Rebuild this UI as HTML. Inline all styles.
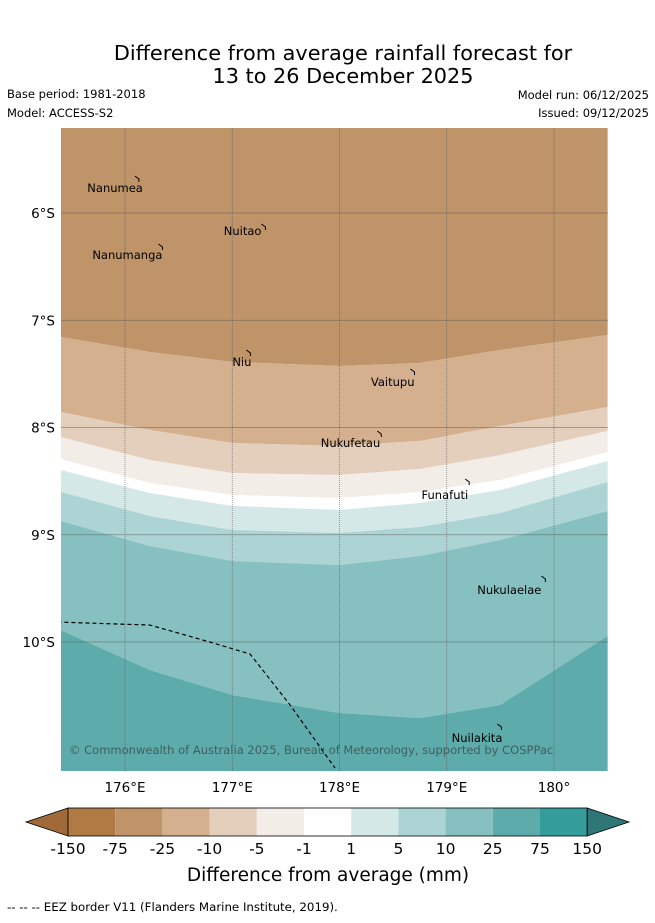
<!DOCTYPE html>
<html><head><meta charset="utf-8">
<style>
body{margin:0;background:#fff;font-family:"DejaVu Sans","Liberation Sans",sans-serif;}
svg text{font-family:"DejaVu Sans","Liberation Sans",sans-serif;}
</style></head>
<body>
<svg id="chart" width="655" height="919" viewBox="0 0 655 919" xmlns="http://www.w3.org/2000/svg">
<text x="343" y="60" font-size="20.8" text-anchor="middle">Difference from average rainfall forecast for</text>
<text x="343" y="83" font-size="20.8" text-anchor="middle">13 to 26 December 2025</text>
<text x="7" y="98" font-size="11.5">Base period: 1981-2018</text>
<text x="7" y="117" font-size="11.5">Model: ACCESS-S2</text>
<text x="649" y="99" font-size="11.5" text-anchor="end">Model run: 06/12/2025</text>
<text x="649" y="117" font-size="11.5" text-anchor="end">Issued: 09/12/2025</text>
<defs><clipPath id="mapclip"><rect x="61" y="128" width="547" height="643"/></clipPath></defs>
<g id="map" clip-path="url(#mapclip)"></g>
<g id="axes"></g>
<g id="colorbar"></g>
<text x="328" y="881" font-size="18.5" text-anchor="middle">Difference from average (mm)</text>
<text x="7" y="911" font-size="11.8">-- -- -- EEZ border V11 (Flanders Marine Institute, 2019).</text>
</svg>
<script>
// Data
const boundaryLons=[175.4,176.23,177.0,178.0,178.75,179.5,180.5];
const b1=[7.156,7.296,7.389,7.427,7.399,7.277,7.138];
const b2=[7.856,8.023,8.145,8.172,8.126,7.986,7.809];
const b3=[8.089,8.303,8.425,8.443,8.387,8.257,8.033];
const b4=[8.294,8.517,8.629,8.657,8.601,8.490,8.228];
const b5=[8.396,8.611,8.732,8.769,8.704,8.583,8.312];
const b6=[8.601,8.825,8.956,8.984,8.928,8.797,8.508];
const b7=[8.872,9.105,9.245,9.282,9.198,9.049,8.779];
const b8=[9.888,10.261,10.494,10.662,10.709,10.587,9.944];
const bandColors=["#c09469","#d4b08f","#e4cfbd","#f3ede8","#ffffff","#d4e8e8","#acd4d4","#86c0c0","#5eabab"];
const cbLabels=["-150","-75","-25","-10","-5","-1","1","5","10","25","75","150"];
const cbColors=["#b07a45","#c09469","#d4b08f","#e4cfbd","#f3ede8","#ffffff","#d4e8e8","#acd4d4","#86c0c0","#5eabab","#359c9c"];
const lonTicks=[176,177,178,179,180];
const lonTickLabels=["176°E","177°E","178°E","179°E","180°"];
const latTicks=[6,7,8,9,10];
const latTickLabels=["6°S","7°S","8°S","9°S","10°S"];
const islandNames=["Nanumea","Nuitao","Nanumanga","Niu","Vaitupu","Nukufetau","Funafuti","Nukulaelae","Nuilakita"];
const islandLon=[176.12,177.30,176.34,177.16,178.69,178.38,179.20,179.91,179.50];
const islandLat=[5.674,6.121,6.308,7.296,7.473,8.051,8.499,9.403,10.783];
const islandLabelDx=[5,-3,1,2,1,0,0,-3,2];
const islandLabelDy=[14,9,13,14,15,14,18,16,16];
const eezLon=[175.37,176.233,176.79,177.166,177.54,177.958];
const eezLat=[9.814,9.842,10.0,10.112,10.588,11.175];

const NS="http://www.w3.org/2000/svg";
const x=lon=>125+(lon-176)*107.25;
const y=lat=>213+(lat-6)*107.25;
function mk(tag,attrs,parent){const e=document.createElementNS(NS,tag);for(const k in attrs)e.setAttribute(k,attrs[k]);parent.appendChild(e);return e;}
const map=document.getElementById('map');
const bounds=[b1,b2,b3,b4,b5,b6,b7,b8];
const xs=boundaryLons.map(x);
function pts(b){return b.map((v,i)=>xs[i]+","+y(v));}
for(let i=0;i<bandColors.length;i++){
  let top=i===0?xs.map(v=>v+",120"):pts(bounds[i-1]);
  let bot=i===bandColors.length-1?xs.map(v=>v+",780"):pts(bounds[i]);
  const p=mk('polygon',{points:top.concat(bot.slice().reverse()).join(' '),fill:bandColors[i]},map);
  
  
}
lonTicks.forEach((l,i)=>{const g=mk('line',{x1:x(l),x2:x(l),y1:128,y2:771,stroke:'#444','stroke-width':0.7,'stroke-dasharray':'1,1','stroke-opacity':0.7},map);

});
latTicks.forEach((l,i)=>{const g=mk('line',{x1:61,x2:608,y1:y(l),y2:y(l),stroke:'#555','stroke-width':0.7,'stroke-opacity':0.6},map);

});
const eez=mk('polyline',{points:eezLon.map((l,i)=>x(l)+","+y(eezLat[i])).join(' '),fill:'none',stroke:'#000','stroke-width':1.2,'stroke-dasharray':'4,3'},map);


islandNames.forEach((n,i)=>{const ix=x(islandLon[i]),iy=y(islandLat[i]);
 const m=mk('path',{d:`M${ix-3},${iy-2} L${ix+1},${iy+1} L${ix+1},${iy+4}`,stroke:'#000',fill:'none','stroke-width':1},map);
 
 
 const t=mk('text',{x:ix+islandLabelDx[i],y:iy+islandLabelDy[i],'font-size':11.5,'text-anchor':'end'},map);t.textContent=n;
 
 });
const cp=mk('text',{x:69,y:754,'font-size':11.5,fill:'#3d6060'},map);cp.textContent="© Commonwealth of Australia 2025, Bureau of Meteorology, supported by COSPPac";


const ax=document.getElementById('axes');
lonTicks.forEach((l,i)=>{const t=mk('text',{x:x(l),y:792,'font-size':13.5,'text-anchor':'middle'},ax);t.textContent=lonTickLabels[i];

});
latTicks.forEach((l,i)=>{const t=mk('text',{x:55,y:y(l)+5,'font-size':13.5,'text-anchor':'end'},ax);t.textContent=latTickLabels[i];

});
const cb=document.getElementById('colorbar');
const cx0=68,cw=47.2,cyT=808,cyB=836;
const lt=mk('polygon',{points:`${cx0},${cyT} 26,822 ${cx0},${cyB}`,fill:'#a0693a',stroke:'#000','stroke-width':0.8},cb);


cbColors.forEach((c,i)=>{const r=mk('rect',{x:cx0+i*cw,y:cyT,width:cw,height:cyB-cyT,fill:c},cb);

});
const ex=cx0+cbColors.length*cw;
const rt=mk('polygon',{points:`${ex},${cyT} 629,822 ${ex},${cyB}`,fill:'#2f7777',stroke:'#000','stroke-width':0.8},cb);


const fr=mk('rect',{x:cx0,y:cyT,width:ex-cx0,height:cyB-cyT,fill:'none',stroke:'#000','stroke-width':0.8},cb);


cbLabels.forEach((s,i)=>{const t=mk('text',{x:cx0+i*cw,y:854,'font-size':15.5,'text-anchor':'middle'},cb);t.textContent=s;

});
</script>
</body></html>
